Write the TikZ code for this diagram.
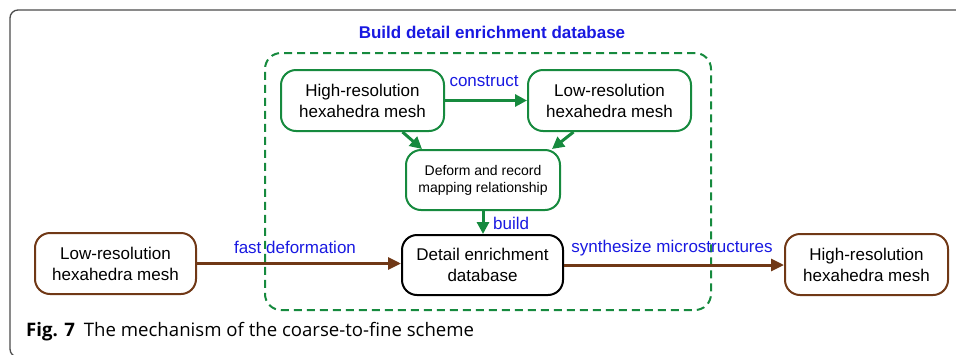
\documentclass[tikz,border=0pt]{standalone}
\usepackage{fontspec}
\setmainfont{Liberation Sans}
\newfontfamily\capfont{Open Sans}
\usetikzlibrary{arrows.meta}
\definecolor{bgreen}{RGB}{22,138,62}
\definecolor{bbrown}{RGB}{112,56,22}
\definecolor{lblue}{RGB}{25,25,225}
\begin{document}
\begin{tikzpicture}[x=1pt,y=-1pt,
  box/.style={draw, line width=2pt, rounded corners=15pt, align=center,
    font=\fontsize{17}{21}\selectfont, inner sep=0pt, minimum width=163pt, minimum height=61pt},
  gbox/.style={box, draw=bgreen},
  brbox/.style={box, draw=bbrown},
  lbl/.style={text=lblue, font=\fontsize{17}{20}\selectfont, inner sep=0pt},
  garrow/.style={draw=bgreen, line width=3pt, -{Triangle[length=12pt,width=12pt]}},
  brarrow/.style={draw=bbrown, line width=3pt, -{Triangle[length=13pt,width=12pt]}}
]
\useasboundingbox (0,0) rectangle (956,354);
% outer frame
\draw[black!70, line width=1.3pt, rounded corners=8pt] (960,10) -- (10,10) -- (10,357) -- (20,357);
% title
\node[lbl, font=\fontsize{17}{20}\selectfont\bfseries] (title) at (492,32) {Build detail enrichment database};
% dashed group
\node[draw=bgreen, line width=2pt, dash pattern=on 8pt off 5pt, rounded corners=16pt,
  minimum width=446pt, minimum height=257pt, inner sep=0pt] (grp) at (488,181.5) {};
% nodes
\node[gbox] (hr) at (362.5,100.5) {High-resolution\\hexahedra mesh};
\node[gbox] (lr) at (609.5,100.5) {Low-resolution\\hexahedra mesh};
\node[gbox, minimum width=154pt, minimum height=60pt, font=\fontsize{14}{17}\selectfont] (df) at (483,180) {Deform and record\\mapping relationship};
\node[box, minimum width=161pt, minimum height=60pt] (de) at (482.5,265) {Detail enrichment\\database};
\node[brbox, minimum width=161pt] (lo) at (115.5,263.5) {Low-resolution\\hexahedra mesh};
\node[brbox] (hi) at (866.5,264.5) {High-resolution\\hexahedra mesh};
% arrows
\draw[garrow] (hr.east) -- (lr.west);
\node[lbl] (lc) at (484,81) {construct};
\draw[garrow] ([xshift=40pt]hr.south) -- ([xshift=-61pt]df.north);
\draw[garrow] ([xshift=-36pt]lr.south) -- ([xshift=69pt]df.north);
\draw[garrow] (df.south) -- (df.south |- de.north);
\node[lbl, anchor=west] (lb) at (493,223) {build};
\draw[brarrow] (lo.east) -- (lo.east -| de.west);
\node[lbl] (lf) at (295,247) {fast deformation};
\draw[brarrow] (de.east) -- (de.east -| hi.west);
\node[lbl] (ls) at (672,248) {synthesize microstructures};
% caption
\node[anchor=west, inner sep=0pt, font=\capfont\fontsize{18.6}{22}\selectfont] (cap) at (26,332)
  {\textbf{Fig. 7}\hspace{9pt}The mechanism of the coarse-to-fine scheme};
\end{tikzpicture}
\end{document}
